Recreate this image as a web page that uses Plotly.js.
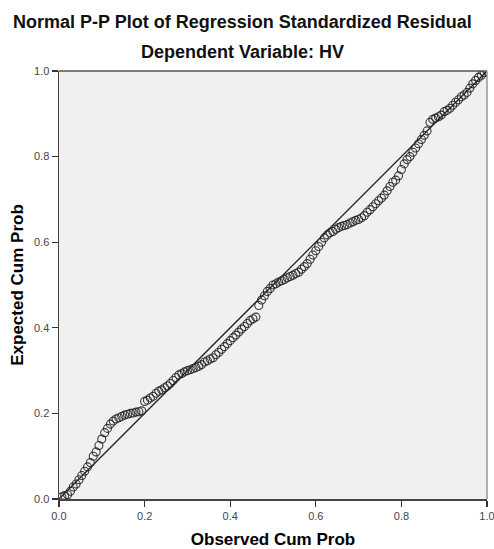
<!DOCTYPE html>
<html>
<head>
<meta charset="utf-8">
<script src="https://cdn.plot.ly/plotly-3.0.1.min.js"></script>
<style>html,body{margin:0;padding:0;background:#fff;}#chart{width:494px;height:549px;}</style>
</head>
<body>
<div id="chart"></div>
<script>
// Observed cumulative probability (i / 150)
const observedCumProb = [
0.0067,0.0133,0.0200,0.0267,0.0333,0.0400,0.0467,0.0533,0.0600,0.0667,
0.0733,0.0800,0.0867,0.0933,0.1000,0.1067,0.1133,0.1200,0.1267,0.1333,
0.1400,0.1467,0.1533,0.1600,0.1667,0.1733,0.1800,0.1867,0.1933,0.2000,
0.2067,0.2133,0.2200,0.2267,0.2333,0.2400,0.2467,0.2533,0.2600,0.2667,
0.2733,0.2800,0.2867,0.2933,0.3000,0.3067,0.3133,0.3200,0.3267,0.3333,
0.3400,0.3467,0.3533,0.3600,0.3667,0.3733,0.3800,0.3867,0.3933,0.4000,
0.4067,0.4133,0.4200,0.4267,0.4333,0.4400,0.4467,0.4533,0.4600,0.4667,
0.4733,0.4800,0.4867,0.4933,0.5000,0.5067,0.5133,0.5200,0.5267,0.5333,
0.5400,0.5467,0.5533,0.5600,0.5667,0.5733,0.5800,0.5867,0.5933,0.6000,
0.6067,0.6133,0.6200,0.6267,0.6333,0.6400,0.6467,0.6533,0.6600,0.6667,
0.6733,0.6800,0.6867,0.6933,0.7000,0.7067,0.7133,0.7200,0.7267,0.7333,
0.7400,0.7467,0.7533,0.7600,0.7667,0.7733,0.7800,0.7867,0.7933,0.8000,
0.8067,0.8133,0.8200,0.8267,0.8333,0.8400,0.8467,0.8533,0.8600,0.8667,
0.8733,0.8800,0.8867,0.8933,0.9000,0.9067,0.9133,0.9200,0.9267,0.9333,
0.9400,0.9467,0.9533,0.9600,0.9667,0.9733,0.9800,0.9867,0.9933,1.0000
];
// Expected cumulative probability
const expectedCumProb = [
0.005,0.008,0.010,0.018,0.028,0.035,0.045,0.055,0.065,0.075,
0.085,0.100,0.110,0.125,0.140,0.155,0.165,0.175,0.182,0.187,
0.190,0.193,0.196,0.198,0.200,0.201,0.203,0.204,0.206,0.228,
0.231,0.236,0.240,0.247,0.252,0.255,0.260,0.264,0.270,0.277,
0.284,0.290,0.293,0.297,0.300,0.302,0.305,0.307,0.310,0.314,
0.320,0.323,0.327,0.330,0.337,0.343,0.350,0.356,0.363,0.370,
0.377,0.383,0.390,0.397,0.403,0.410,0.417,0.421,0.425,0.452,
0.465,0.475,0.485,0.492,0.500,0.503,0.507,0.510,0.513,0.517,
0.520,0.523,0.527,0.530,0.537,0.543,0.550,0.560,0.570,0.580,
0.590,0.600,0.610,0.617,0.622,0.625,0.630,0.634,0.637,0.639,
0.641,0.645,0.648,0.651,0.653,0.657,0.662,0.670,0.676,0.683,
0.690,0.697,0.703,0.710,0.720,0.730,0.740,0.745,0.755,0.770,
0.783,0.793,0.800,0.810,0.820,0.830,0.840,0.850,0.860,0.880,
0.887,0.890,0.893,0.897,0.905,0.908,0.913,0.920,0.927,0.933,
0.940,0.944,0.950,0.960,0.970,0.978,0.985,0.990,0.996,0.999
];
const refLineX = [0, 1];
const refLineY = [0, 1];
const tickVals = [0, 0.2, 0.4, 0.6, 0.8, 1.0];
const tickText = ["0.0", "0.2", "0.4", "0.6", "0.8", "1.0"];
const titleLine1 = "Normal P-P Plot of Regression Standardized Residual";
const titleLine2 = "Dependent Variable: HV";
const xTitle = "Observed Cum Prob";
const yTitle = "Expected Cum Prob";

const font = "Liberation Sans, Arial, sans-serif";

const traces = [
  {
    x: refLineX, y: refLineY, mode: "lines", type: "scatter",
    line: {color: "#222", width: 1.3}, hoverinfo: "skip", showlegend: false, cliponaxis: false
  },
  {
    x: observedCumProb, y: expectedCumProb, mode: "markers", type: "scatter",
    marker: {symbol: "circle-open", size: 8, color: "rgba(35,35,35,0.9)", line: {width: 1.1}},
    showlegend: false
  }
];

const axisCommon = {
  range: [0, 1], tickvals: tickVals, ticktext: tickText,
  ticks: "outside", ticklen: 6, tickwidth: 1.3, tickcolor: "#333",
  showgrid: false, zeroline: false, showline: true, linecolor: "#444", linewidth: 1.5,
  tickfont: {family: font, size: 11, color: "#444"}, fixedrange: true,
  ticklabeloverflow: "allow"
};

const plotH = 428, plotB = 499, plotL = 59, plotW = 428;
const layout = {
  width: 494, height: 549,
  margin: {l: 59, r: 7, t: 71, b: 50, pad: 0},
  paper_bgcolor: "#ffffff", plot_bgcolor: "#f0f0f0",
  xaxis: Object.assign({}, axisCommon, {
    title: {text: xTitle, font: {family: font, size: 17, color: "#000", weight: "bold"}, standoff: 13}
  }),
  yaxis: Object.assign({}, axisCommon, {
    title: {text: yTitle, font: {family: font, size: 17, color: "#000", weight: "bold"}, standoff: 6}
  }),
  shapes: [
    {type: "line", xref: "paper", yref: "paper", x0: 0, x1: 1, y0: 1, y1: 1, line: {color: "#555", width: 1.3}},
    {type: "line", xref: "paper", yref: "paper", x0: 1, x1: 1, y0: 0, y1: 1, line: {color: "#888", width: 1.3}}
  ],
  annotations: [
    {text: "<b>" + titleLine1 + "</b>", xref: "paper", yref: "paper",
     x: (242 - plotL) / plotW, y: (plotB - 22) / plotH,
     xanchor: "center", yanchor: "middle", showarrow: false, font: {family: font, size: 18, color: "#111"}},
    {text: "<b>" + titleLine2 + "</b>", xref: "paper", yref: "paper",
     x: (242 - plotL) / plotW, y: (plotB - 52) / plotH,
     xanchor: "center", yanchor: "middle", showarrow: false, font: {family: font, size: 18, color: "#111"}}
  ]
};

Plotly.newPlot("chart", traces, layout, {displayModeBar: false, staticPlot: true});
</script>
</body>
</html>
